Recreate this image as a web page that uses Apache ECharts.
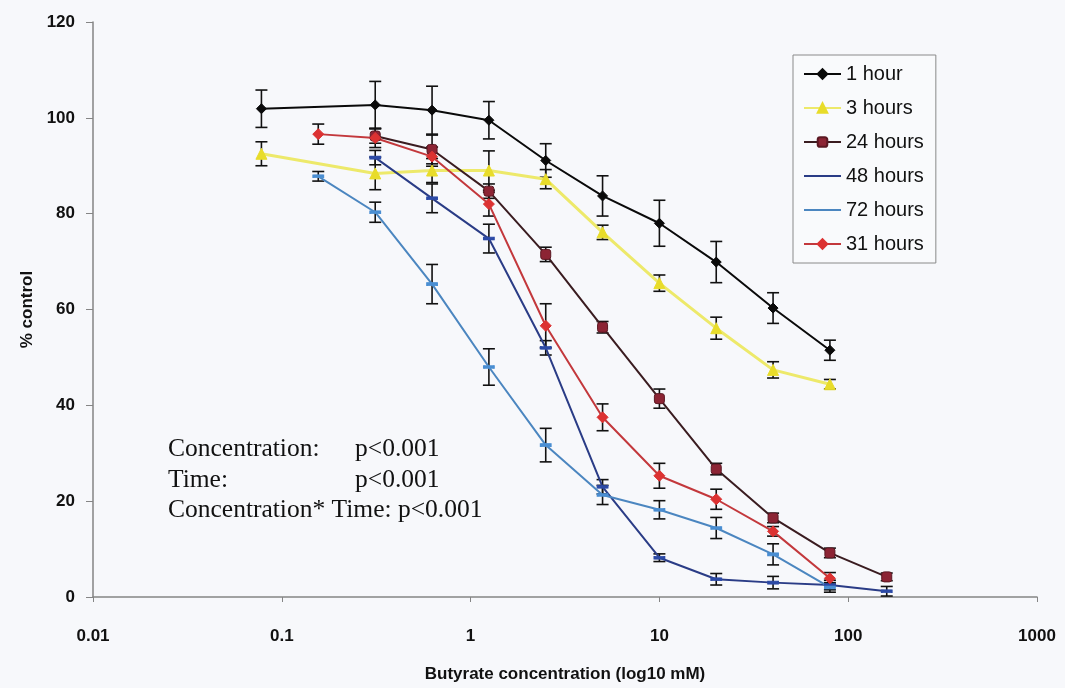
<!DOCTYPE html>
<html>
<head>
<meta charset="utf-8">
<script src="https://cdn.jsdelivr.net/npm/echarts@6/dist/echarts.min.js"></script>
<style>
html,body{margin:0;padding:0;background:#f7f8fb;}
#chart{width:1065px;height:688px;}
</style>
</head>
<body>
<div id="chart"></div>
<script>
// Butyrate concentrations (mM), two-fold dilutions
const concentrations = [0.078, 0.156, 0.3125, 0.625, 1.25, 2.5, 5, 10, 20, 40, 80, 160];
const xTickLabels = ['0.01', '0.1', '1', '10', '100', '1000'];
const yTickLabels = [0, 20, 40, 60, 80, 100, 120];

const seriesNames = ['1 hour', '3 hours', '24 hours', '48 hours', '72 hours', '31 hours'];

const hour1   = [101.9, null, 102.7, 101.6, 99.5, 91.1, 83.7, 78.0, 69.9, 60.3, 51.5, null];
const hour3   = [92.5, null, 88.4, 89.0, 89.0, 87.2, 76.1, 65.5, 56.1, 47.4, 44.4, null];
const hour24  = [null, null, 96.2, 93.4, 84.7, 71.5, 56.3, 41.4, 26.7, 16.5, 9.2, 4.2];
const hour48  = [null, null, 91.7, 83.2, 74.8, 52.0, 23.0, 8.2, 3.7, 3.0, 2.5, 1.2];
const hour72  = [null, 87.8, 80.3, 65.3, 48.0, 31.7, 21.3, 18.2, 14.4, 8.9, 2.0, null];
const hour31  = [null, 96.6, 95.8, 91.9, 82.0, 56.6, 37.5, 25.3, 20.4, 13.7, 3.9, null];

const err1    = [3.9, null, 4.9, 5.0, 3.9, 3.5, 4.2, 4.8, 4.3, 3.2, 2.1, null];
const err3    = [2.5, null, 3.4, 2.5, 4.1, 2.0, 1.5, 1.7, 2.3, 1.7, 1.0, null];
const err24   = [null, null, 1.5, 3.0, 1.5, 1.5, 1.2, 2.0, 1.2, 1.0, 1.0, 0.8];
const err48   = [null, null, 1.5, 3.0, 3.0, 1.5, 1.5, 0.8, 1.2, 1.3, 1.0, 1.0];
const err72   = [null, 1.0, 2.1, 4.1, 3.8, 3.5, 2.0, 1.9, 2.2, 2.2, 1.0, null];
const err31   = [null, 2.1, 2.0, 2.0, 2.5, 4.6, 2.8, 2.6, 2.1, 1.0, 1.2, null];

const annotationLines = [
  ['Concentration:', 'p<0.001'],
  ['Time:', 'p<0.001'],
  ['Concentration* Time: p<0.001', '']
];

const allValues = [hour1, hour3, hour24, hour48, hour72, hour31];
const allErrors = [err1, err3, err24, err48, err72, err31];

const styles = [
  {line: '#0a0a0a', marker: '#0a0a0a', border: '#0a0a0a', symbol: 'diamond', size: 10, width: 2},
  {line: '#ede96a', marker: '#e8dc2a', border: '#e8dc2a', symbol: 'triangle', size: 11, width: 3},
  {line: '#3a1c20', marker: '#8c2434', border: '#5a1822', symbol: 'roundRect', size: 10, width: 2},
  {line: '#2a3c86', marker: '#2c4aa6', border: '#2c4aa6', symbol: 'rect', size: [10, 3], width: 2},
  {line: '#4b86c0', marker: '#4a8ed2', border: '#4a8ed2', symbol: 'rect', size: [10, 3], width: 2},
  {line: '#c3383c', marker: '#dc3232', border: '#dc3232', symbol: 'diamond', size: 11, width: 2}
];

function pairs(vals) {
  const out = [];
  concentrations.forEach((c, i) => { if (vals[i] != null) out.push([c, vals[i]]); });
  return out;
}
function errData(vals, errs) {
  const out = [];
  concentrations.forEach((c, i) => {
    if (vals[i] != null && errs[i] != null) out.push([c, vals[i] - errs[i], vals[i] + errs[i]]);
  });
  return out;
}

const series = [];
allValues.forEach((vals, k) => {
  series.push({
    type: 'custom',
    name: seriesNames[k] + ' err',
    data: errData(vals, allErrors[k]),
    z: 1,
    silent: true,
    renderItem: function (params, api) {
      const x = api.value(0);
      const lo = api.coord([x, api.value(1)]);
      const hi = api.coord([x, api.value(2)]);
      const w = 6;
      const st = {stroke: '#111', lineWidth: 1.6};
      return {
        type: 'group',
        children: [
          {type: 'line', shape: {x1: lo[0], y1: lo[1], x2: hi[0], y2: hi[1]}, style: st},
          {type: 'line', shape: {x1: lo[0] - w, y1: lo[1], x2: lo[0] + w, y2: lo[1]}, style: st},
          {type: 'line', shape: {x1: hi[0] - w, y1: hi[1], x2: hi[0] + w, y2: hi[1]}, style: st}
        ]
      };
    }
  });
});
allValues.forEach((vals, k) => {
  const s = styles[k];
  series.push({
    type: 'line',
    name: seriesNames[k],
    data: pairs(vals),
    z: 3,
    symbol: s.symbol,
    symbolSize: s.size,
    showAllSymbol: true,
    lineStyle: {color: s.line, width: s.width},
    itemStyle: {color: s.marker, borderColor: s.border, borderWidth: 1},
    emphasis: {disabled: true}
  });
});

const serifFont = '"Liberation Serif", "Times New Roman", serif';
const graphics = [];
const lineY = [450, 481, 511];
annotationLines.forEach((ln, i) => {
  graphics.push({type: 'text', left: 168, top: lineY[i] - 14, style: {text: ln[0], font: '25.5px ' + serifFont, fill: '#111'}});
  if (ln[1]) graphics.push({type: 'text', left: 355, top: lineY[i] - 14, style: {text: ln[1], font: '25.5px ' + serifFont, fill: '#111'}});
});

// legend: hide the small dash marker for the two series drawn with dash markers
const legendData = seriesNames.map((n, k) => {
  if (k === 3 || k === 4) return {name: n, itemStyle: {opacity: 0}};
  return {name: n};
});

const chart = echarts.init(document.getElementById('chart'));
chart.setOption({
  backgroundColor: '#f7f8fb',
  animation: false,
  grid: {left: 93, top: 22, width: 944, height: 581, containLabel: false},
  legend: {
    data: legendData,
    orient: 'vertical',
    left: 793,
    top: 55,
    padding: [9, 12, 9, 10],
    itemWidth: 37,
    itemHeight: 12,
    itemGap: 14,
    borderColor: '#8a8a8a',
    borderWidth: 1,
    backgroundColor: '#f9fafc',
    textStyle: {fontFamily: '"Liberation Sans", Arial, sans-serif', fontSize: 20, color: '#111'}
  },
  xAxis: {
    type: 'log',
    logBase: 10,
    min: 0.01,
    max: 1000,
    name: 'Butyrate concentration (log10 mM)',
    nameLocation: 'middle',
    nameGap: 69,
    nameTextStyle: {fontFamily: '"Liberation Sans", Arial, sans-serif', fontWeight: 'bold', fontSize: 17, color: '#111'},
    axisLine: {show: true, lineStyle: {color: '#858585', width: 1.5}},
    axisTick: {show: true, length: 5, lineStyle: {color: '#858585'}},
    splitLine: {show: false},
    minorTick: {show: false},
    axisLabel: {
      margin: 31,
      fontFamily: '"Liberation Sans", Arial, sans-serif', fontWeight: 'bold', fontSize: 17, color: '#111',
      formatter: function (v) {
        const idx = Math.round(Math.log10(v)) + 2;
        return xTickLabels[idx] != null ? xTickLabels[idx] : '';
      }
    }
  },
  yAxis: {
    type: 'value',
    min: yTickLabels[0],
    max: yTickLabels[yTickLabels.length - 1],
    interval: 20,
    name: '% control',
    nameLocation: 'middle',
    nameGap: 50,
    nameTextStyle: {fontFamily: '"Liberation Sans", Arial, sans-serif', fontWeight: 'bold', fontSize: 17, color: '#111'},
    axisLine: {show: true, lineStyle: {color: '#858585', width: 1.5}},
    axisTick: {show: true, length: 7, lineStyle: {color: '#858585'}},
    splitLine: {show: false},
    axisLabel: {margin: 18, fontFamily: '"Liberation Sans", Arial, sans-serif', fontWeight: 'bold', fontSize: 17, color: '#111'}
  },
  graphic: graphics,
  series: series
});
</script>
</body>
</html>
